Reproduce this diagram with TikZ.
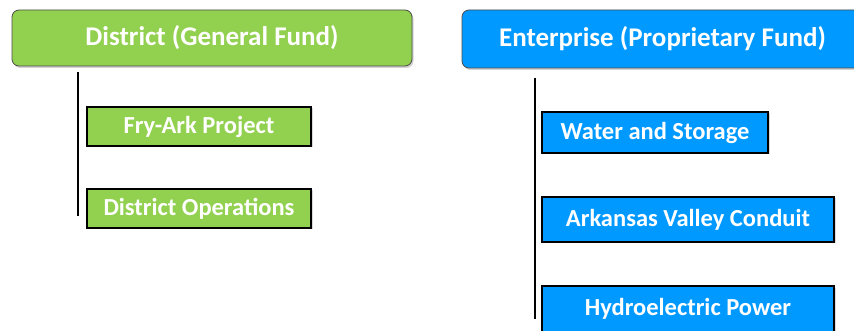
\documentclass[tikz,border=0pt]{standalone}
\usepackage{fontspec}
\setmainfont{Carlito}
\usetikzlibrary{shadows}
\definecolor{fundgreen}{HTML}{92D050}
\definecolor{fundblue}{HTML}{0099FF}
\begin{document}
\begin{tikzpicture}[x=1pt, y=-1pt,
    fundhead/.style={draw=black!70, line width=0.8pt, rounded corners=7pt,
                     text=white, font=\fontsize{27}{29}\selectfont\bfseries,
                     drop shadow={shadow xshift=1.5pt, shadow yshift=-2pt, opacity=0.35}},
    greenhead/.style={fundhead, fill=fundgreen},
    bluehead/.style={fundhead, fill=fundblue},
    unitbox/.style={draw=black, line width=1.6pt, text=white,
                    font=\fontsize{24.5}{26}\selectfont\bfseries,
                    drop shadow={shadow xshift=1.5pt, shadow yshift=-1.5pt, opacity=0.3}},
    greenunit/.style={unitbox, fill=fundgreen},
    blueunit/.style={unitbox, fill=fundblue},
    trunk/.style={line width=1.8pt, black}
  ]
  \useasboundingbox (0,0) rectangle (854,331);
  \clip (0,0) rectangle (854,331);

  % District (General Fund) side
  \node[greenhead, minimum width=400pt, minimum height=56pt] (district) at (212, 38)
    {District (General Fund)};
  \node[greenunit, minimum width=224pt, minimum height=39pt] (fryark) at (199, 126.5)
    {Fry-Ark Project};
  \node[greenunit, minimum width=224pt, minimum height=39pt] (distops) at (199, 208.5)
    {District Operations};
  \coordinate (dtop) at (78, 72);
  \coordinate (dbot) at (78, 216);
  \draw[trunk] (dtop) -- (dbot);

  % Enterprise (Proprietary Fund) side
  \node[bluehead, minimum width=401pt, minimum height=58pt] (enterprise) at (662.5, 39)
    {Enterprise (Proprietary Fund)};
  \node[blueunit, minimum width=226pt, minimum height=41pt] (water) at (655, 132.5)
    {Water and Storage};
  \node[blueunit, minimum width=292pt, minimum height=45pt] (avc) at (688, 219.5)
    {Arkansas Valley Conduit};
  \node[blueunit, minimum width=292pt, minimum height=46pt] (hydro) at (688, 309)
    {Hydroelectric Power};
  \coordinate (etop) at (535, 78);
  \coordinate (ebot) at (535, 319);
  \draw[trunk] (etop) -- (ebot);

\end{tikzpicture}
\end{document}
